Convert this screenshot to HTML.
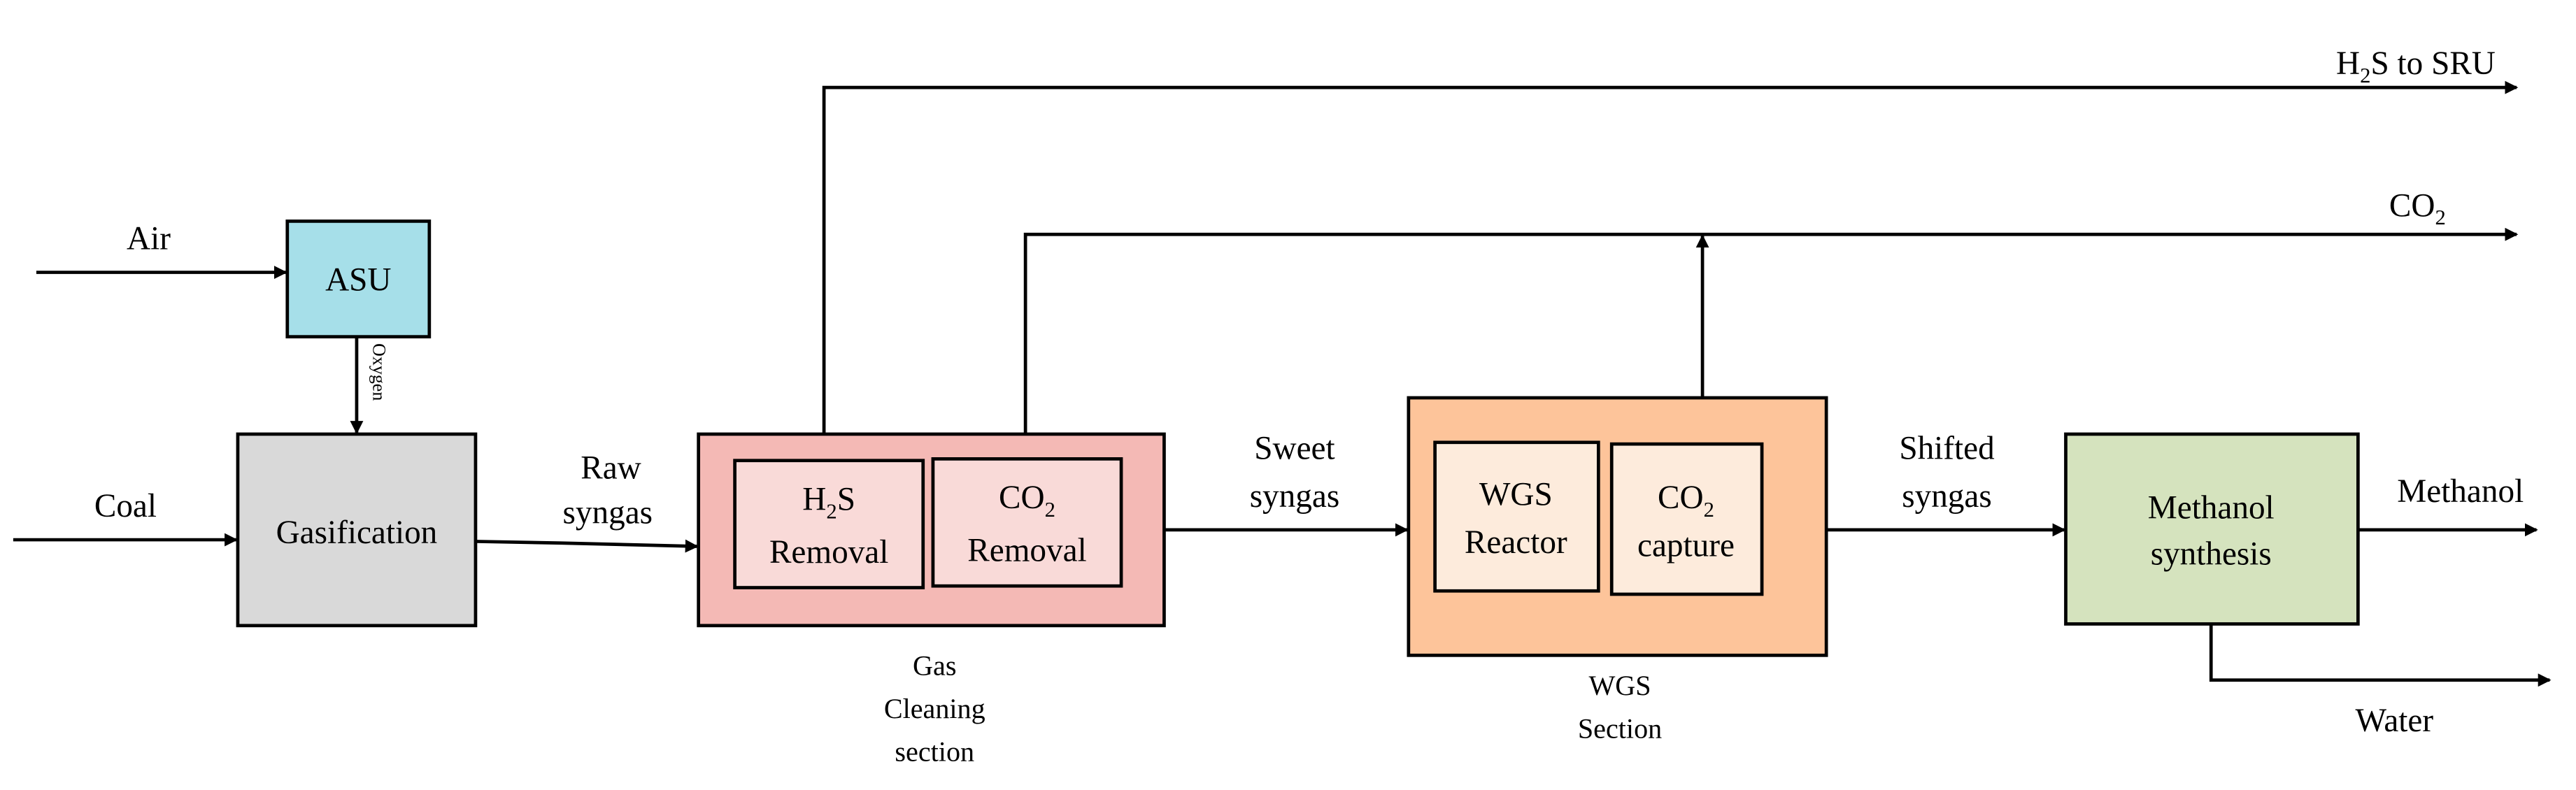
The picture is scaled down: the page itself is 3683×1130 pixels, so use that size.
<!DOCTYPE html>
<html><head><meta charset="utf-8"><style>html,body{margin:0;padding:0;background:#fff}svg{display:block}text{font-family:"Liberation Serif",serif;fill:#000}</style></head><body>
<svg width="3683" height="1130" viewBox="0 0 1560 478.6" preserveAspectRatio="none" xmlns="http://www.w3.org/2000/svg">
<defs><marker id="a" markerWidth="8" markerHeight="8" refX="7" refY="4" orient="auto" markerUnits="userSpaceOnUse"><path d="M0,0 L8,4 L0,8 Z" fill="#000"/></marker></defs>
<g stroke="#000" stroke-width="2" fill="none">
<line x1="22" y1="165" x2="173" y2="165" marker-end="url(#a)"/>
<line x1="216" y1="204" x2="216" y2="262" marker-end="url(#a)"/>
<line x1="8" y1="327" x2="143" y2="327" marker-end="url(#a)"/>
<polyline points="288,328 340,329 422,331" marker-end="url(#a)"/>
<polyline points="499,279 499,53 1524,53" marker-end="url(#a)"/>
<polyline points="621,278 621,142 1524,142" marker-end="url(#a)"/>
<line x1="705" y1="321" x2="852" y2="321" marker-end="url(#a)"/>
<line x1="1031" y1="269" x2="1031" y2="143" marker-end="url(#a)"/>
<line x1="1106" y1="321" x2="1250" y2="321" marker-end="url(#a)"/>
<line x1="1428" y1="321" x2="1536" y2="321" marker-end="url(#a)"/>
<polyline points="1339,378 1339,412 1544,412" marker-end="url(#a)"/>
</g>
<g stroke="#000" stroke-width="2">
<rect x="174" y="134" width="86" height="70" fill="#a6dfe9"/>
<rect x="144" y="263" width="144" height="116" fill="#d9d9d9"/>
<rect x="423" y="263" width="282" height="116" fill="#f4b9b5"/>
<rect x="445" y="279" width="114" height="77" fill="#f9dad8"/>
<rect x="565" y="278" width="114" height="77" fill="#f9dad8"/>
<rect x="853" y="241" width="253" height="156" fill="#fdc49a"/>
<rect x="869" y="268" width="99" height="90" fill="#fdebdc"/>
<rect x="976" y="269" width="91" height="91" fill="#fdebdc"/>
<rect x="1251" y="263" width="177" height="115" fill="#d5e3be"/>
</g>
<g font-size="20" text-anchor="middle">
<text x="90" y="151">Air</text>
<text x="217" y="176">ASU</text>
<text x="76" y="313">Coal</text>
<text x="216" y="329">Gasification</text>
<text x="370" y="290">Raw</text>
<text x="368" y="317">syngas</text>
<text x="502" y="309">H<tspan font-size="13" dy="5">2</tspan><tspan dy="-5">S</tspan></text>
<text x="502" y="341">Removal</text>
<text x="622" y="308">CO<tspan font-size="13" dy="5">2</tspan></text>
<text x="622" y="340">Removal</text>
<text x="784" y="278">Sweet</text>
<text x="784" y="307">syngas</text>
<text x="918" y="306">WGS</text>
<text x="918" y="335">Reactor</text>
<text x="1021" y="308">CO<tspan font-size="13" dy="5">2</tspan></text>
<text x="1021" y="337">capture</text>
<text x="1179" y="278">Shifted</text>
<text x="1179" y="307">syngas</text>
<text x="1339" y="314">Methanol</text>
<text x="1339" y="342">synthesis</text>
<text x="1490" y="304">Methanol</text>
<text x="1450" y="443">Water</text>
<text x="1464" y="131">CO<tspan font-size="13" dy="5">2</tspan></text>
<text x="1463" y="45">H<tspan font-size="13" dy="5">2</tspan><tspan dy="-5">S to SRU</tspan></text>
</g>
<g font-size="17" text-anchor="middle">
<text x="566" y="409">Gas</text>
<text x="566" y="435">Cleaning</text>
<text x="566" y="461">section</text>
<text x="981" y="421">WGS</text>
<text x="981" y="447">Section</text>
</g>
<text font-size="11" transform="translate(226,208) rotate(90)">Oxygen</text>
</svg>
</body></html>
